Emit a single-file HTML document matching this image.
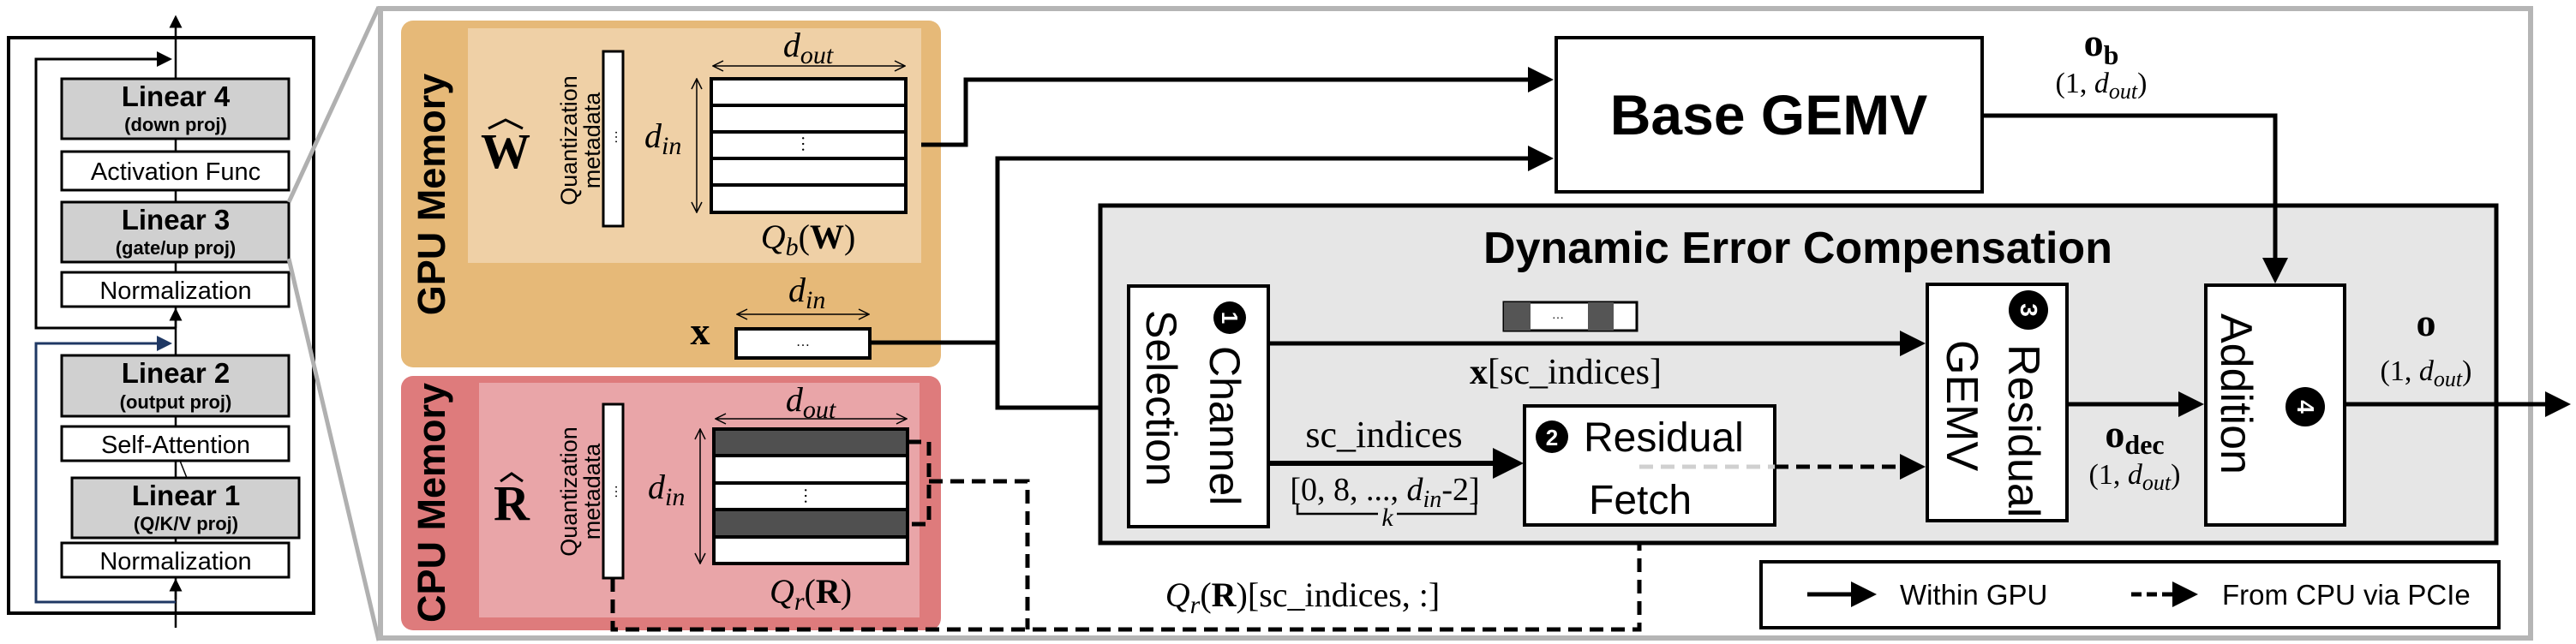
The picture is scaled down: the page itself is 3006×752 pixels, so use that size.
<!DOCTYPE html>
<html><head><meta charset="utf-8"><style>
html,body{margin:0;padding:0;background:#fff;}
svg{display:block;}
.s{font-family:"Liberation Sans",sans-serif;}
.m{font-family:"Liberation Serif",serif;}
</style></head><body>
<svg width="3006" height="752" viewBox="0 0 3006 752" xmlns="http://www.w3.org/2000/svg">
<defs>
<marker id="a" markerWidth="6" markerHeight="6" refX="5" refY="3" orient="auto" markerUnits="strokeWidth"><path d="M0,0 L6,3 L0,6 z" fill="#000"/></marker>
<marker id="an" markerWidth="6" markerHeight="6" refX="5" refY="3" orient="auto" markerUnits="strokeWidth"><path d="M0,0 L6,3 L0,6 z" fill="#1f3864"/></marker>
<marker id="o" markerWidth="14" markerHeight="14" refX="13" refY="7" orient="auto-start-reverse" markerUnits="userSpaceOnUse"><path d="M1,1 L13,7 L1,13" fill="none" stroke="#000" stroke-width="1.5"/></marker>
</defs>

<!-- LEFT PANEL -->
<rect x="10" y="44" width="356" height="672" fill="#fff" stroke="#000" stroke-width="4"/>
<line x1="205" y1="733" x2="205" y2="20" stroke="#000" stroke-width="2.5" marker-end="url(#a)"/>
<path d="M205,383 H42 V69 H198" fill="none" stroke="#000" stroke-width="3" marker-end="url(#a)"/>
<path d="M205,703 H42 V401 H198" fill="none" stroke="#1f3864" stroke-width="3" marker-end="url(#an)"/>
<line x1="205" y1="383" x2="205" y2="362" stroke="#000" stroke-width="2.5" marker-end="url(#a)"/>
<line x1="205" y1="700" x2="205" y2="678" stroke="#000" stroke-width="2.5" marker-end="url(#a)"/>
<line x1="210" y1="538" x2="218" y2="558" stroke="#000" stroke-width="1.5"/>
<g class="s" text-anchor="middle">
<rect x="72" y="92" width="265" height="70" fill="#d0d0d0" stroke="#000" stroke-width="3"/>
<text x="205" y="124" font-size="33" font-weight="bold">Linear 4</text>
<text x="205" y="153" font-size="22" font-weight="bold">(down proj)</text>
<rect x="72" y="177" width="265" height="45" fill="#fff" stroke="#000" stroke-width="3"/>
<text x="205" y="210" font-size="29">Activation Func</text>
<rect x="72" y="236" width="265" height="70" fill="#d0d0d0" stroke="#000" stroke-width="3"/>
<text x="205" y="268" font-size="33" font-weight="bold">Linear 3</text>
<text x="205" y="297" font-size="22" font-weight="bold">(gate/up proj)</text>
<rect x="72" y="318" width="265" height="40" fill="#fff" stroke="#000" stroke-width="3"/>
<text x="205" y="349" font-size="29">Normalization</text>
<rect x="72" y="415" width="265" height="71" fill="#d0d0d0" stroke="#000" stroke-width="3"/>
<text x="205" y="447" font-size="33" font-weight="bold">Linear 2</text>
<text x="205" y="477" font-size="22" font-weight="bold">(output proj)</text>
<rect x="72" y="498" width="265" height="40" fill="#fff" stroke="#000" stroke-width="3"/>
<text x="205" y="529" font-size="29">Self-Attention</text>
<rect x="84" y="558" width="265" height="70" fill="#d0d0d0" stroke="#000" stroke-width="3"/>
<text x="217" y="590" font-size="33" font-weight="bold">Linear 1</text>
<text x="217" y="619" font-size="22" font-weight="bold">(Q/K/V proj)</text>
<rect x="72" y="634" width="265" height="40" fill="#fff" stroke="#000" stroke-width="3"/>
<text x="205" y="665" font-size="29">Normalization</text>
</g>
<!-- zoom lines -->
<line x1="337" y1="236" x2="442" y2="8" stroke="#b0b0b0" stroke-width="5"/>
<line x1="337" y1="302" x2="442" y2="748" stroke="#b0b0b0" stroke-width="5"/>
<rect x="444" y="10" width="2509" height="735" fill="#fff" stroke="#b5b5b5" stroke-width="6"/>

<!-- GPU MEMORY -->
<rect x="468" y="24" width="630" height="405" rx="14" fill="#e6b978"/>
<rect x="546" y="33" width="529" height="274" fill="#efd0a6"/>
<text class="s" transform="translate(519,227) rotate(-90)" text-anchor="middle" font-size="45" font-weight="bold">GPU Memory</text>
<text class="m" x="590" y="196" text-anchor="middle" font-size="58" font-weight="bold">W</text>
<path d="M570,150 L590,140 L610,150" fill="none" stroke="#000" stroke-width="3"/>
<g class="s" font-size="27" text-anchor="middle">
<text transform="translate(673,164) rotate(-90)">Quantization</text>
<text transform="translate(700,164) rotate(-90)">metadata</text>
</g>
<rect x="704" y="60" width="23" height="204" fill="#fff" stroke="#000" stroke-width="3"/>
<text x="716" y="164" font-size="16" text-anchor="middle" transform="rotate(-90 716 160)">…</text>
<g stroke="#000" stroke-width="4" fill="#fff">
<rect x="830" y="92" width="227" height="156"/>
<line x1="830" y1="123" x2="1057" y2="123"/><line x1="830" y1="154" x2="1057" y2="154"/><line x1="830" y1="185" x2="1057" y2="185"/><line x1="830" y1="216" x2="1057" y2="216"/>
</g>
<text x="943" y="175" text-anchor="middle" font-size="20" transform="rotate(90 943 168)">…</text>
<line x1="832" y1="77" x2="1056" y2="77" stroke="#000" stroke-width="1.5" marker-start="url(#o)" marker-end="url(#o)"/>
<line x1="813" y1="92" x2="813" y2="248" stroke="#000" stroke-width="1.5" marker-start="url(#o)" marker-end="url(#o)"/>
<text class="m" x="943" y="66" text-anchor="middle" font-size="40" font-style="italic">d<tspan font-size="30" dy="8">out</tspan></text>
<text class="m" x="752" y="172" font-size="40" font-style="italic">d<tspan font-size="30" dy="8">in</tspan></text>
<text class="m" x="943" y="290" text-anchor="middle" font-size="40"><tspan font-style="italic">Q</tspan><tspan font-style="italic" font-size="30" dy="8">b</tspan><tspan dy="-8">(</tspan><tspan font-weight="bold">W</tspan>)</text>
<text class="m" x="817" y="402" text-anchor="middle" font-size="46" font-weight="bold">x</text>
<rect x="859" y="384" width="156" height="34" fill="#fff" stroke="#000" stroke-width="4"/>
<text x="937" y="404" text-anchor="middle" font-size="16">…</text>
<line x1="860" y1="367" x2="1014" y2="367" stroke="#000" stroke-width="1.5" marker-start="url(#o)" marker-end="url(#o)"/>
<text class="m" x="920" y="352" font-size="40" font-style="italic">d<tspan font-size="30" dy="8">in</tspan></text>

<!-- CPU MEMORY -->
<rect x="468" y="439" width="630" height="297" rx="14" fill="#de7b7c"/>
<rect x="559" y="447" width="514" height="274" fill="#e9a5a8"/>
<text class="s" transform="translate(519,587) rotate(-90)" text-anchor="middle" font-size="45" font-weight="bold">CPU Memory</text>
<text class="m" x="597" y="607" text-anchor="middle" font-size="58" font-weight="bold">R</text>
<path d="M584,562 L597,553 L610,562" fill="none" stroke="#000" stroke-width="3"/>
<g class="s" font-size="27" text-anchor="middle">
<text transform="translate(673,574) rotate(-90)">Quantization</text>
<text transform="translate(700,574) rotate(-90)">metadata</text>
</g>
<rect x="704" y="472" width="23" height="203" fill="#fff" stroke="#000" stroke-width="3"/>
<text x="716" y="578" font-size="16" text-anchor="middle" transform="rotate(-90 716 574)">…</text>
<g stroke="#000" stroke-width="4">
<rect x="833" y="501" width="226" height="157" fill="#fff"/>
<rect x="833" y="501" width="226" height="31" fill="#505050"/>
<rect x="833" y="595" width="226" height="32" fill="#505050"/>
<line x1="833" y1="564" x2="1059" y2="564"/>
</g>
<text x="946" y="586" text-anchor="middle" font-size="20" transform="rotate(90 946 579)">…</text>
<line x1="835" y1="489" x2="1058" y2="489" stroke="#000" stroke-width="1.5" marker-start="url(#o)" marker-end="url(#o)"/>
<line x1="817" y1="501" x2="817" y2="658" stroke="#000" stroke-width="1.5" marker-start="url(#o)" marker-end="url(#o)"/>
<text class="m" x="946" y="480" text-anchor="middle" font-size="40" font-style="italic">d<tspan font-size="30" dy="8">out</tspan></text>
<text class="m" x="756" y="582" font-size="40" font-style="italic">d<tspan font-size="30" dy="8">in</tspan></text>
<text class="m" x="946" y="704" text-anchor="middle" font-size="40"><tspan font-style="italic">Q</tspan><tspan font-style="italic" font-size="30" dy="8">r</tspan><tspan dy="-8">(</tspan><tspan font-weight="bold">R</tspan>)</text>

<!-- dashed CPU paths -->
<g fill="none" stroke="#000" stroke-width="5" stroke-dasharray="16 9">
<path d="M1059,516 H1084 V612 H1059"/>
<path d="M1084,562 H1199 V735"/>
<path d="M715,675 V735 H1913 V613"/>
</g>
<text class="m" x="1520" y="708" text-anchor="middle" font-size="40"><tspan font-style="italic">Q</tspan><tspan font-style="italic" font-size="30" dy="8">r</tspan><tspan dy="-8">(</tspan><tspan font-weight="bold">R</tspan>)[sc_indices, :]</text>

<!-- top connectors -->
<path d="M1075,169 H1127 V93 H1808" fill="none" stroke="#000" stroke-width="5" marker-end="url(#a)"/>
<path d="M1015,400 H1164 V476 H1310" fill="none" stroke="#000" stroke-width="5" marker-end="url(#a)"/>
<path d="M1164,400 V185 H1808" fill="none" stroke="#000" stroke-width="5" marker-end="url(#a)"/>

<!-- Base GEMV -->
<rect x="1816" y="44" width="497" height="180" fill="#fff" stroke="#000" stroke-width="4"/>
<text class="s" x="2064" y="157" text-anchor="middle" font-size="66" font-weight="bold">Base GEMV</text>
<text class="m" x="2452" y="65" text-anchor="middle" font-size="46" font-weight="bold">o<tspan font-size="32" dy="10">b</tspan></text>
<text class="m" x="2452" y="108" text-anchor="middle" font-size="34">(1, <tspan font-style="italic">d</tspan><tspan font-style="italic" font-size="26" dy="7">out</tspan><tspan dy="-7">)</tspan></text>

<!-- DEC box -->
<rect x="1284" y="240" width="1629" height="394" fill="#e6e6e6" stroke="#000" stroke-width="5"/>
<text class="s" x="2098" y="307" text-anchor="middle" font-size="52" font-weight="bold">Dynamic Error Compensation</text>
<path d="M2313,135 H2655 V326" fill="none" stroke="#000" stroke-width="5" marker-end="url(#a)"/>

<!-- Channel selection -->
<rect x="1317" y="334" width="163" height="281" fill="#fff" stroke="#000" stroke-width="4"/>
<circle cx="1435" cy="371" r="19" fill="#000"/>
<text class="s" transform="translate(1426,371) rotate(90)" text-anchor="middle" font-size="26" fill="#fff" font-weight="bold">1</text>
<text class="s" transform="translate(1412,404) rotate(90)" font-size="50">Channel</text>
<text class="s" transform="translate(1338,362) rotate(90)" font-size="50">Selection</text>

<!-- x[sc] bar -->
<rect x="1755" y="353" width="155" height="33" fill="#fff" stroke="#000" stroke-width="3"/>
<rect x="1755" y="353" width="31" height="33" fill="#555"/>
<rect x="1853" y="353" width="30" height="33" fill="#555"/>
<text x="1818" y="372" text-anchor="middle" font-size="14">…</text>
<line x1="1480" y1="401" x2="2242" y2="401" stroke="#000" stroke-width="5" marker-end="url(#a)"/>
<text class="m" x="1827" y="448" text-anchor="middle" font-size="42"><tspan font-weight="bold">x</tspan>[sc_indices]</text>

<!-- sc_indices -->
<line x1="1480" y1="541" x2="1772" y2="541" stroke="#000" stroke-width="6" marker-end="url(#a)"/>
<text class="m" x="1615" y="522" text-anchor="middle" font-size="44">sc_indices</text>
<text class="m" x="1616" y="584" text-anchor="middle" font-size="38">[0, 8, ..., <tspan font-style="italic">d</tspan><tspan font-style="italic" font-size="28" dy="8">in</tspan><tspan dy="-8">-2]</tspan></text>
<path d="M1514,588 V600 H1722 V588" fill="none" stroke="#000" stroke-width="2.5"/>
<rect x="1608" y="598" width="22" height="6" fill="#e6e6e6"/>
<text class="m" x="1619" y="614" text-anchor="middle" font-size="30" font-style="italic">k</text>

<!-- Residual Fetch -->
<rect x="1779" y="474" width="292" height="139" fill="#fff" stroke="#000" stroke-width="4"/>
<circle cx="1811" cy="510" r="19" fill="#000"/>
<text class="s" x="1811" y="520" text-anchor="middle" font-size="26" fill="#fff" font-weight="bold">2</text>
<text class="s" x="1848" y="527" font-size="48">Residual</text>
<text class="s" x="1854" y="600" font-size="48">Fetch</text>
<line x1="1913" y1="545" x2="2071" y2="545" stroke="#d0d0d0" stroke-width="5" stroke-dasharray="16 9"/>
<line x1="2071" y1="545" x2="2242" y2="545" stroke="#000" stroke-width="5" stroke-dasharray="16 9" marker-end="url(#a)"/>

<!-- Residual GEMV -->
<rect x="2249" y="332" width="163" height="276" fill="#fff" stroke="#000" stroke-width="4"/>
<circle cx="2367" cy="362" r="23" fill="#000"/>
<text class="s" transform="translate(2358,362) rotate(90)" text-anchor="middle" font-size="28" fill="#fff" font-weight="bold">3</text>
<text class="s" transform="translate(2344,402) rotate(90)" font-size="52">Residual</text>
<text class="s" transform="translate(2272,397) rotate(90)" font-size="52">GEMV</text>
<line x1="2412" y1="472" x2="2567" y2="472" stroke="#000" stroke-width="5" marker-end="url(#a)"/>
<text class="m" x="2491" y="522" text-anchor="middle" font-size="46" font-weight="bold">o<tspan font-size="32" dy="8">dec</tspan></text>
<text class="m" x="2491" y="565" text-anchor="middle" font-size="34">(1, <tspan font-style="italic">d</tspan><tspan font-style="italic" font-size="26" dy="7">out</tspan><tspan dy="-7">)</tspan></text>

<!-- Addition -->
<rect x="2574" y="333" width="162" height="280" fill="#fff" stroke="#000" stroke-width="4"/>
<text class="s" transform="translate(2592,366) rotate(90)" font-size="52">Addition</text>
<circle cx="2690" cy="475" r="23" fill="#000"/>
<text class="s" transform="translate(2681,475) rotate(90)" text-anchor="middle" font-size="28" fill="#fff" font-weight="bold">4</text>
<line x1="2736" y1="472" x2="2995" y2="472" stroke="#000" stroke-width="5" marker-end="url(#a)"/>
<text class="m" x="2831" y="392" text-anchor="middle" font-size="46" font-weight="bold">o</text>
<text class="m" x="2831" y="444" text-anchor="middle" font-size="34">(1, <tspan font-style="italic">d</tspan><tspan font-style="italic" font-size="26" dy="7">out</tspan><tspan dy="-7">)</tspan></text>

<!-- Legend -->
<rect x="2055" y="656" width="861" height="77" fill="#fff" stroke="#000" stroke-width="4"/>
<line x1="2109" y1="694" x2="2185" y2="694" stroke="#000" stroke-width="5" marker-end="url(#a)"/>
<text class="s" x="2217" y="706" font-size="33">Within GPU</text>
<line x1="2487" y1="694" x2="2560" y2="694" stroke="#000" stroke-width="5" stroke-dasharray="12 6" marker-end="url(#a)"/>
<text class="s" x="2593" y="706" font-size="33">From CPU via PCIe</text>
</svg>
</body></html>
